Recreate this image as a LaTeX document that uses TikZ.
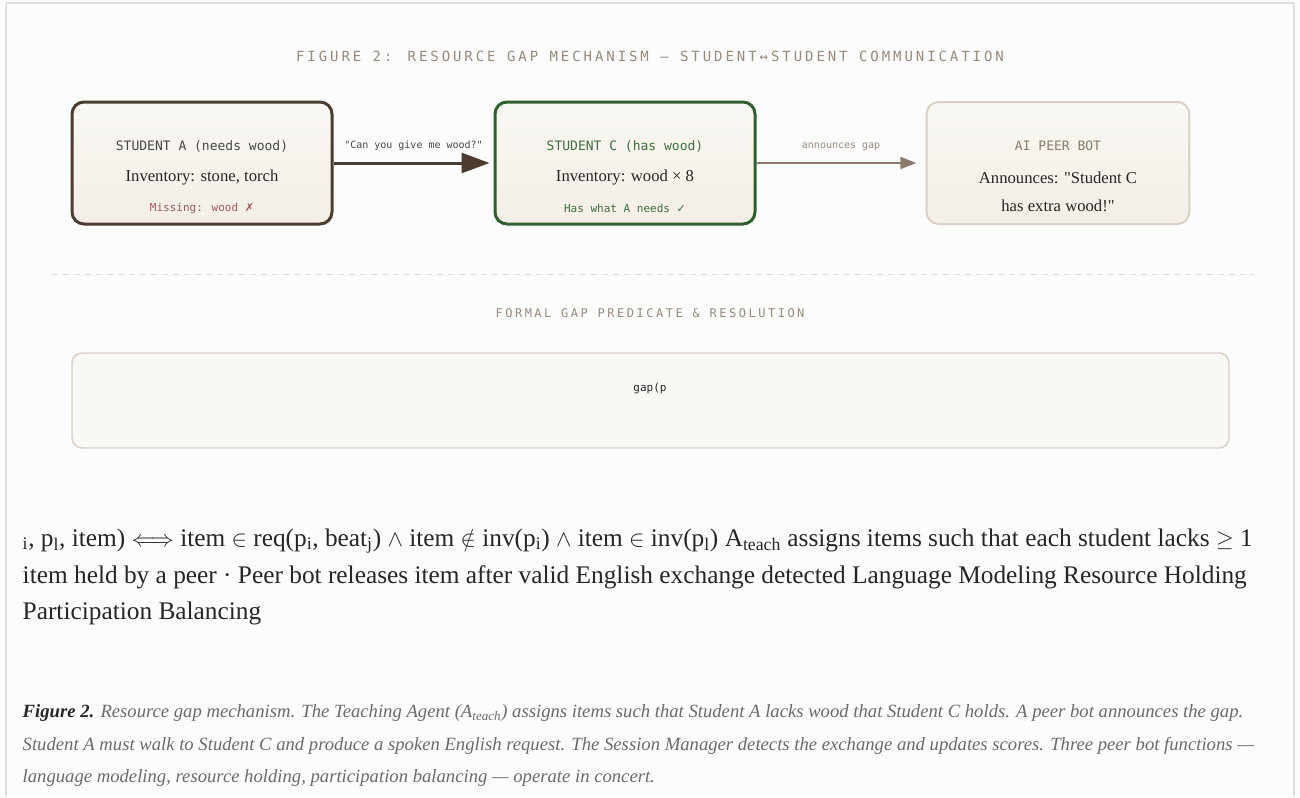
\documentclass[tikz,border=0pt]{standalone}
\usepackage{fontspec}
\setmainfont{Liberation Serif}
\newfontfamily\monofont{DejaVu Sans Mono}
\newfontfamily\symfont{DejaVu Sans}
\newfontfamily\capsfont[LetterSpace=21]{DejaVu Sans Mono}
\usepackage{tikz}
\usetikzlibrary{arrows.meta}

\definecolor{framegray}{HTML}{DEDEDE}
\definecolor{headbrown}{HTML}{9A8A78}
\definecolor{boxtop}{HTML}{FAF8F4}
\definecolor{boxbot}{HTML}{F3EEE6}
\definecolor{darkbrown}{HTML}{4D3D30}
\definecolor{darkgreen}{HTML}{2F5F2F}
\definecolor{textgreen}{HTML}{3E6E3E}
\definecolor{lightbeige}{HTML}{D9D0C3}
\definecolor{missred}{HTML}{A05A5A}
\definecolor{arrowbrown}{HTML}{8C7B6A}
\definecolor{inkdark}{HTML}{262626}
\definecolor{captiongray}{HTML}{6B6B6B}

\tikzset{
  studentbox/.style={rounded corners=9pt, minimum width=195pt, minimum height=91.5pt,
    top color=boxtop, bottom color=boxbot, line width=2.25pt},
  headline/.style={font=\capsfont\fontsize{10.5}{12}\selectfont, text=headbrown},
  boxhead/.style={font=\monofont\fontsize{9.75}{12}\selectfont},
  boxbody/.style={font=\fontsize{12.5}{15}\selectfont, text=inkdark},
  boxfoot/.style={font=\monofont\fontsize{8.25}{10}\selectfont},
  edgelabel/.style={font=\monofont\fontsize{7.5}{9}\selectfont},
  bodyline/.style={anchor=west, font=\fontsize{19}{22}\selectfont, text=inkdark},
  capline/.style={anchor=west, font=\itshape\fontsize{14}{16}\selectfont, text=captiongray}
}

\begin{document}
\begin{tikzpicture}[x=0.75pt, y=-0.75pt]
        \useasboundingbox (0, 0) rectangle (1300, 797);
        \fill[white!99!black] (0, 0) rectangle (1300, 797);
        \draw[framegray, line width=1.5pt] (6, 3) -- (1294, 3);
        \draw[framegray, line width=1.5pt] (6, 3) -- (6, 797);
        \draw[framegray, line width=1.5pt] (1294, 3) -- (1294, 797);

        \node[headline] (title) at (650, 56) {FIGURE 2: RESOURCE GAP MECHANISM — STUDENT↔STUDENT COMMUNICATION};

        % the three participants
        \node[studentbox, draw=darkbrown] (stuA) at (202, 163) {};
        \node[boxhead, text=inkdark!85] (stuAhead) at (202, 146) {STUDENT A (needs wood)};
        \node[boxbody] (stuAinv) at (202, 178) {Inventory: stone, torch};
        \node[boxfoot, text=missred] (stuAmiss) at (202, 208) {Missing: wood {\symfont ✗}};

        \node[studentbox, draw=darkgreen] (stuC) at (625, 163) {};
        \node[boxhead, text=textgreen] (stuChead) at (625, 146) {STUDENT C (has wood)};
        \node[boxbody] (stuCinv) at (625, 178) {Inventory: wood × 8};
        \node[boxfoot, text=textgreen] (stuChas) at (625, 208) {Has what A needs {\symfont ✓}};

        \node[studentbox, draw=lightbeige, line width=1.5pt, minimum width=197pt] (bot) at (1058, 163) {};
        \node[boxhead, text=arrowbrown] (bothead) at (1058, 146) {AI PEER BOT};
        \node[boxbody] (botsay1) at (1058, 178) {Announces: \textquotedbl Student C};
        \node[boxbody] (botsay2) at (1058, 206) {has extra wood!\textquotedbl};

        \draw[-{Triangle[length=21pt, width=15pt]}, darkbrown, line width=2.25pt, shorten >=3pt] (stuA) -- (stuC)
                node [midway, above=5pt, edgelabel, text=inkdark!85] {"Can you give me wood?"};
        \draw[-{Triangle[length=12pt, width=9pt]}, arrowbrown, line width=1.5pt, shorten >=7pt] (stuC) -- (bot)
                node [midway, above=5pt, edgelabel, text=headbrown] {announces gap};

        \draw[framegray, line width=0.75pt, dash pattern=on 4.5pt off 3.75pt] (52, 274) -- (1254, 274);

        % formal part
        \node[headline, font=\capsfont\fontsize{9}{10}\selectfont] (formalhead) at (650, 313) {FORMAL GAP PREDICATE \& RESOLUTION};
        \node[rounded corners=7.5pt, minimum width=867.75pt, minimum height=71.25pt, fill=boxtop,
                draw=lightbeige, line width=1.1pt] (predbox) at (650.5, 400.5) {};
        \node[boxfoot, text=inkdark] (pred) at (650, 389) {gap(p};

        \node[bodyline] (line1) at (18, 541) {\textsubscript{i}, p\textsubscript{l}, item) $\Longleftrightarrow$ item $\in$ req(p\textsubscript{i}, beat\textsubscript{j}) $\wedge$ item $\notin$ inv(p\textsubscript{i}) $\wedge$ item $\in$ inv(p\textsubscript{l}) A\textsubscript{teach} assigns items such that each student lacks $\geq$ 1};
        \node[bodyline] (line2) at (18, 577) {item held by a peer · Peer bot releases item after valid English exchange detected Language Modeling Resource Holding};
        \node[bodyline] (line3) at (18, 613) {Participation Balancing};

        \node[capline] (cap1) at (18, 713) {{\bfseries\color{inkdark}Figure 2.} Resource gap mechanism. The Teaching Agent (A\textsubscript{teach}) assigns items such that Student A lacks wood that Student C holds. A peer bot announces the gap.};
        \node[capline] (cap2) at (18, 746) {Student A must walk to Student C and produce a spoken English request. The Session Manager detects the exchange and updates scores. Three peer bot functions —};
        \node[capline] (cap3) at (18, 778) {language modeling, resource holding, participation balancing — operate in concert.};
\end{tikzpicture}
\end{document}
